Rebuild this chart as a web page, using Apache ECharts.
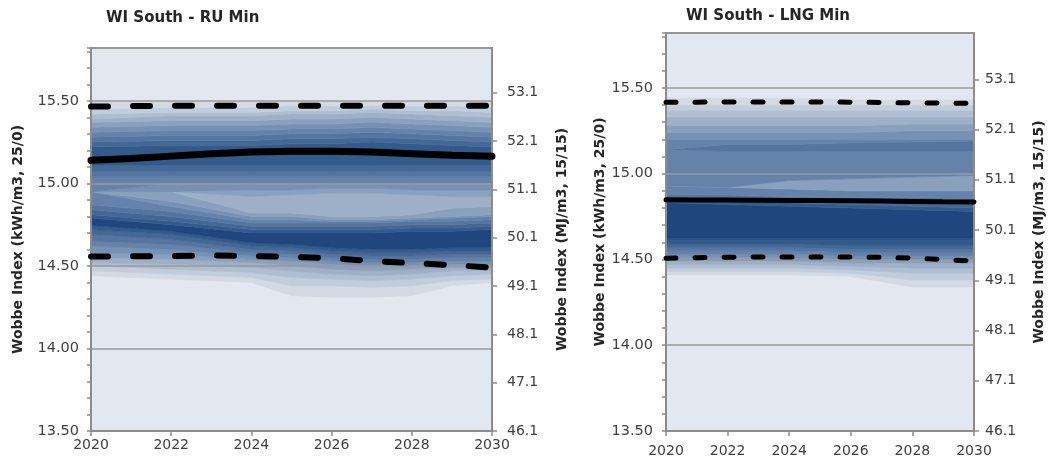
<!DOCTYPE html>
<html><head><meta charset="utf-8">
<script src="https://cdn.jsdelivr.net/npm/echarts@6/dist/echarts.min.js"></script>
<style>html,body{margin:0;padding:0;background:#fff}#c{width:1051px;height:466px}</style>
</head><body><div id="c"></div>
<script>
// ---------- data ----------
const years = [2020,2021,2022,2023,2024,2025,2026,2027,2028,2029,2030];
const yearTickLabels = ['2020','2022','2024','2026','2028','2030'];
const kwhTickLabels = ['13.50','14.00','14.50','15.00','15.50'];
const mjTickLabels = ['46.1','47.1','48.1','49.1','50.1','51.1','52.1','53.1'];

const ruMedian = [15.14,15.15,15.165,15.18,15.19,15.195,15.195,15.19,15.18,15.17,15.165];
const ruUpper  = [15.465,15.468,15.47,15.47,15.47,15.47,15.47,15.47,15.47,15.47,15.47];
const ruLower  = [14.557,14.558,14.56,14.563,14.56,14.555,14.547,14.53,14.517,14.505,14.49];

const lngMedian = [14.848,14.847,14.846,14.845,14.844,14.843,14.842,14.840,14.838,14.836,14.835];
const lngUpper  = [15.417,15.417,15.418,15.418,15.418,15.418,15.417,15.415,15.413,15.411,15.41];
const lngLower  = [14.507,14.51,14.513,14.515,14.515,14.515,14.514,14.512,14.508,14.5,14.49];

// fan-band boundaries (bottom -> top) read at these years
const ruFanYears = [2020,2022,2024,2025,2026,2027,2028,2029,2030];
const ruFanLevels = [
 [14.44,14.47,14.50,14.52,14.55,14.58,14.62,14.65,14.69,14.72,14.745,14.79,14.81,14.84,14.87,14.95,14.95,14.95,14.95,14.95,14.95,15.04,15.07,15.11,15.22,15.25,15.28,15.31,15.34,15.37,15.39,15.42,15.45,15.50],
 [14.42,14.45,14.48,14.51,14.54,14.57,14.60,14.63,14.66,14.69,14.71,14.75,14.77,14.80,14.83,14.86,14.89,14.95,14.95,14.95,15.00,15.04,15.07,15.11,15.23,15.26,15.29,15.32,15.35,15.38,15.41,15.43,15.46,15.50],
 [14.40,14.43,14.46,14.49,14.52,14.54,14.56,14.58,14.60,14.62,14.64,14.70,14.72,14.74,14.76,14.78,14.80,14.82,14.92,14.96,15.00,15.04,15.07,15.11,15.23,15.26,15.29,15.32,15.35,15.38,15.41,15.43,15.46,15.50],
 [14.32,14.38,14.43,14.47,14.50,14.53,14.55,14.57,14.59,14.61,14.63,14.70,14.72,14.74,14.76,14.78,14.80,14.82,14.93,14.96,15.00,15.04,15.07,15.11,15.24,15.27,15.30,15.33,15.36,15.39,15.42,15.44,15.47,15.50],
 [14.31,14.38,14.42,14.45,14.48,14.51,14.53,14.55,14.57,14.59,14.61,14.70,14.72,14.74,14.76,14.77,14.78,14.80,14.94,14.97,15.00,15.04,15.07,15.11,15.24,15.27,15.30,15.33,15.36,15.39,15.42,15.44,15.47,15.50],
 [14.31,14.37,14.41,14.44,14.47,14.50,14.52,14.54,14.56,14.58,14.60,14.70,14.72,14.74,14.76,14.77,14.78,14.80,14.94,14.97,15.00,15.04,15.07,15.11,15.25,15.28,15.31,15.34,15.37,15.40,15.43,15.45,15.47,15.50],
 [14.32,14.38,14.42,14.45,14.48,14.50,14.52,14.54,14.56,14.58,14.60,14.71,14.73,14.75,14.77,14.78,14.79,14.81,14.93,14.96,15.00,15.04,15.07,15.11,15.24,15.27,15.30,15.33,15.36,15.39,15.42,15.44,15.47,15.50],
 [14.38,14.41,14.44,14.47,14.49,14.51,14.53,14.55,14.57,14.59,14.61,14.71,14.73,14.75,14.77,14.79,14.80,14.85,14.92,14.96,15.00,15.04,15.07,15.11,15.23,15.26,15.29,15.32,15.35,15.38,15.41,15.44,15.47,15.50],
 [14.40,14.42,14.45,14.47,14.49,14.51,14.53,14.55,14.57,14.59,14.61,14.72,14.74,14.76,14.78,14.80,14.81,14.86,14.92,14.96,15.00,15.04,15.07,15.11,15.22,15.25,15.28,15.31,15.34,15.37,15.40,15.43,15.46,15.50]
];
const ruFanShades = [1,2,3,4,5,6,7,8,9,10,11,10,9,8,7,6,5,4,5,6,7,8,9,10,9,8,7,6,5,4,3,2,1];

const lngFanYears = [2020,2022,2024,2026,2028,2030];
const lngFanLevels = [
 [14.41,14.43,14.45,14.47,14.49,14.51,14.53,14.55,14.57,14.59,14.62,14.83,14.845,14.86,14.88,14.93,14.93,15.14,15.14,15.20,15.24,15.28,15.33,15.37,15.40,15.44],
 [14.41,14.43,14.45,14.47,14.49,14.51,14.53,14.55,14.57,14.59,14.62,14.82,14.84,14.855,14.875,14.92,14.92,15.13,15.17,15.20,15.24,15.28,15.33,15.37,15.40,15.44],
 [14.41,14.43,14.45,14.47,14.49,14.51,14.53,14.55,14.57,14.59,14.62,14.81,14.83,14.845,14.865,14.91,14.96,15.13,15.17,15.20,15.24,15.28,15.33,15.37,15.40,15.44],
 [14.40,14.42,14.44,14.46,14.48,14.50,14.52,14.54,14.56,14.58,14.62,14.80,14.82,14.84,14.86,14.90,14.97,15.13,15.18,15.20,15.24,15.28,15.33,15.37,15.40,15.43],
 [14.34,14.38,14.42,14.45,14.48,14.50,14.52,14.54,14.56,14.58,14.62,14.79,14.81,14.83,14.86,14.90,14.98,15.13,15.185,15.20,15.25,15.29,15.33,15.37,15.40,15.43],
 [14.34,14.38,14.42,14.45,14.48,14.50,14.52,14.54,14.56,14.58,14.62,14.78,14.80,14.83,14.855,14.90,14.99,15.13,15.19,15.20,15.25,15.29,15.33,15.37,15.40,15.43]
];
const lngFanShades = [1,2,3,4,5,6,7,8,9,10,11,10,9,8,7,5,7,8,7,6,5,4,3,2,1];

// ---------- style ----------
const palette = ['#e3e7ef','#d3dae4','#c2cddb','#afbed2','#9db0c8','#8aa1be','#7791b4','#6583aa','#5575a0','#446896','#325a8b','#1f477d'];
const FONT = '"DejaVu Sans", sans-serif';
const AX = '#8c8c8c';
const Y_MIN = 13.5, Y_MAX = 15.82;
const MJ_PER_KWH = 3.4148;

// one custom series per chart; each data item is one band, drawn as a polygon through the axes
function fanSeries(fanYears, levels, shades, idx) {
  return {
    type: 'custom', xAxisIndex: idx, yAxisIndex: idx * 3, silent: true, z: 2,
    data: shades.map((s, k) => [fanYears[0], levels[0][k], k]),
    renderItem: function (params, api) {
      const k = api.value(2);
      const pts = [];
      for (let i = 0; i < fanYears.length; i++) pts.push(api.coord([fanYears[i], levels[i][k]]));
      for (let i = fanYears.length - 1; i >= 0; i--) pts.push(api.coord([fanYears[i], levels[i][k + 1]]));
      const col = palette[shades[k]];
      return { type: 'polygon', shape: { points: pts }, style: { fill: col, stroke: col, lineWidth: 0.6 } };
    }
  };
}

function lineSeries(vals, idx, width, dash) {
  return {
    type: 'line', xAxisIndex: idx, yAxisIndex: idx * 3, silent: true, showSymbol: false, z: 6,
    lineStyle: { color: '#000', width: width, type: dash || 'solid', cap: 'round' },
    data: years.map((y, i) => [y, vals[i]])
  };
}

function axesFor(gi, xMargin, leftMargin, rightMargin, leftGap, rightGap) {
  const xAxis = {
    gridIndex: gi, type: 'value', min: 2020, max: 2030, interval: 2, z: 5,
    axisLine: { onZero: false, lineStyle: { color: AX, width: 2 } },
    axisTick: { show: true, length: 5, lineStyle: { color: AX, width: 1.5 } },
    splitLine: { show: false },
    axisLabel: { margin: xMargin, color: '#404040', fontSize: 14, fontFamily: FONT,
      formatter: v => yearTickLabels[Math.round((v - 2020) / 2)] || '' }
  };
  const yMain = {
    gridIndex: gi, type: 'value', position: 'left', min: Y_MIN, max: Y_MAX, interval: 0.5, z: 4,
    name: 'Wobbe Index (kWh/m3, 25/0)', nameLocation: 'middle', nameRotate: 90, nameGap: leftGap,
    nameTextStyle: { fontWeight: 'bold', fontSize: 14, color: '#262626', fontFamily: FONT },
    axisLine: { show: true, lineStyle: { color: AX, width: 2 } },
    axisTick: { show: false },
    splitLine: { show: true, lineStyle: { color: '#9a9a9a', width: 1.5 } },
    axisLabel: { margin: leftMargin, color: '#404040', fontSize: 14.5, fontFamily: FONT, showMaxLabel: false,
      formatter: v => { const i = Math.round((v - Y_MIN) / 0.5); return Math.abs(v - (Y_MIN + i * 0.5)) < 1e-6 ? kwhTickLabels[i] : ''; } }
  };
  const yMJ = {
    gridIndex: gi, type: 'value', position: 'right', min: 0, max: +((Y_MAX - Y_MIN) * MJ_PER_KWH).toFixed(4), interval: 1, z: 4,
    name: 'Wobbe Index (MJ/m3, 15/15)', nameLocation: 'middle', nameRotate: 90, nameGap: rightGap,
    nameTextStyle: { fontWeight: 'bold', fontSize: 14, color: '#262626', fontFamily: FONT },
    axisLine: { show: true, lineStyle: { color: AX, width: 2 } },
    axisTick: { show: true, length: 5, lineStyle: { color: AX, width: 1.5 } },
    splitLine: { show: false },
    axisLabel: { margin: rightMargin, color: '#404040', fontSize: 14, fontFamily: FONT, showMaxLabel: false,
      formatter: v => { const i = Math.round(v); return Math.abs(v - i) < 1e-6 ? (mjTickLabels[i] || '') : ''; } }
  };
  const yMinor = {
    gridIndex: gi, type: 'value', position: 'left', min: Y_MIN, max: Y_MAX, interval: 0.1, z: 4,
    axisLine: { show: false }, axisLabel: { show: false }, splitLine: { show: false },
    axisTick: { show: true, length: 4, lineStyle: { color: AX, width: 1.5 } }
  };
  return { xAxis, y: [yMain, yMJ, yMinor] };
}

const A0 = axesFor(0, 7, 12, 15, 66, 63);
const A1 = axesFor(1, 13, 13, 11, 55, 58);

const option = {
  animation: false,
  backgroundColor: '#ffffff',
  title: [
    { text: 'WI South - RU Min', left: 101, top: 6, textStyle: { fontSize: 15, fontWeight: 'bold', color: '#262626', fontFamily: FONT } },
    { text: 'WI South - LNG Min', left: 681, top: 4, textStyle: { fontSize: 15, fontWeight: 'bold', color: '#262626', fontFamily: FONT } }
  ],
  grid: [
    { left: 91, top: 48, width: 401, height: 383, show: true, backgroundColor: palette[0], borderColor: AX, borderWidth: 2, containLabel: false },
    { left: 666, top: 33, width: 308, height: 398, show: true, backgroundColor: palette[0], borderColor: AX, borderWidth: 2, containLabel: false }
  ],
  xAxis: [A0.xAxis, A1.xAxis],
  yAxis: [...A0.y, ...A1.y],
  series: [
    fanSeries(ruFanYears, ruFanLevels, ruFanShades, 0),
    fanSeries(lngFanYears, lngFanLevels, lngFanShades, 1),
    lineSeries(ruMedian, 0, 7),
    lineSeries(ruUpper, 0, 6, [17, 25]),
    lineSeries(ruLower, 0, 6, [17, 25]),
    lineSeries(lngMedian, 1, 5),
    lineSeries(lngUpper, 1, 5, [10, 19]),
    lineSeries(lngLower, 1, 5, [10, 19])
  ]
};
const chart = echarts.init(document.getElementById('c'), null, { renderer: 'canvas' });
chart.setOption(option);
</script></body></html>
